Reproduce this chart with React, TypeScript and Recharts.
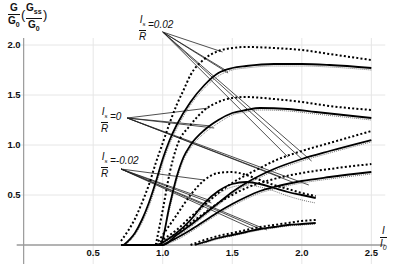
import React from 'react';
import { ComposedChart, Line, XAxis, YAxis, ReferenceLine, ReferenceDot } from 'recharts';

// axis ticks
const X_TICKS = [0.5, 1, 1.5, 2, 2.5];
const Y_TICKS = [0.5, 1, 1.5, 2];
const X_TICK_LABELS = ['0.5', '1.0', '1.5', '2.0', '2.5'];
const Y_TICK_LABELS = ['0.5', '1.0', '1.5', '2.0'];

// Is/R = 0.02, upper branch
const P1_DOT = [[0.7, 0.04], [0.75, 0.14], [0.8, 0.26], [0.85, 0.42], [0.9, 0.6], [0.95, 0.82], [1.0, 1.02], [1.05, 1.22], [1.1, 1.4], [1.15, 1.55], [1.2, 1.7], [1.3, 1.86], [1.4, 1.94], [1.5, 1.97], [1.6, 1.98], [1.8, 1.97], [2.0, 1.95], [2.2, 1.91], [2.5, 1.85]];
const P1_SOLID = [[0.72, 0], [0.8, 0.12], [0.85, 0.25], [0.9, 0.42], [0.95, 0.63], [1.0, 0.86], [1.05, 1.05], [1.1, 1.2], [1.2, 1.43], [1.3, 1.6], [1.4, 1.72], [1.5, 1.77], [1.6, 1.79], [1.8, 1.81], [2.0, 1.81], [2.2, 1.8], [2.5, 1.77]];
const P1_FINE = [[0.73, 0], [0.8, 0.1], [0.85, 0.22], [0.9, 0.38], [0.95, 0.59], [1.0, 0.82], [1.05, 1.01], [1.1, 1.16], [1.2, 1.4], [1.3, 1.57], [1.4, 1.69], [1.5, 1.75], [1.6, 1.77], [1.8, 1.79], [2.0, 1.79], [2.2, 1.78], [2.5, 1.75]];

// Is/R = 0, upper branch
const P2_DOT = [[0.95, 0], [1.0, 0.35], [1.05, 0.72], [1.1, 0.98], [1.2, 1.2], [1.3, 1.35], [1.4, 1.43], [1.5, 1.47], [1.6, 1.48], [1.8, 1.46], [2.0, 1.43], [2.2, 1.39], [2.5, 1.35]];
const P2_SOLID = [[0.7, 0], [0.98, 0], [1.05, 0.4], [1.1, 0.68], [1.15, 0.88], [1.2, 1.0], [1.3, 1.15], [1.4, 1.25], [1.5, 1.32], [1.6, 1.35], [1.7, 1.37], [1.9, 1.36], [2.1, 1.33], [2.3, 1.3], [2.5, 1.27]];
const P2_FINE = [[0.99, 0], [1.05, 0.36], [1.1, 0.64], [1.15, 0.85], [1.2, 0.97], [1.3, 1.12], [1.4, 1.22], [1.5, 1.3], [1.6, 1.33], [1.7, 1.35], [1.9, 1.34], [2.1, 1.31], [2.3, 1.28], [2.5, 1.25]];

// Is/R = 0.02, lower branch
const P3_DOT = [[0.96, 0], [1.0, 0.05], [1.1, 0.15], [1.2, 0.28], [1.3, 0.4], [1.4, 0.52], [1.5, 0.62], [1.6, 0.7], [1.7, 0.77], [1.8, 0.84], [2.0, 0.94], [2.2, 1.02], [2.5, 1.14]];
const P3_SOLID = [[0.7, 0], [1.0, 0], [1.1, 0.1], [1.2, 0.2], [1.3, 0.31], [1.4, 0.42], [1.5, 0.53], [1.6, 0.62], [1.8, 0.76], [2.0, 0.86], [2.2, 0.94], [2.5, 1.05]];
const P3_FINE = [[1.01, 0], [1.1, 0.08], [1.2, 0.18], [1.3, 0.29], [1.4, 0.4], [1.5, 0.51], [1.6, 0.6], [1.8, 0.74], [2.0, 0.84], [2.2, 0.92], [2.5, 1.03]];

// Is/R = 0, lower branch
const P4_DOT = [[0.97, 0], [1.1, 0.12], [1.2, 0.22], [1.3, 0.32], [1.4, 0.42], [1.5, 0.5], [1.6, 0.57], [1.7, 0.62], [1.8, 0.66], [2.0, 0.72], [2.2, 0.76], [2.5, 0.81]];
const P4_SOLID = [[1.0, 0], [1.1, 0.07], [1.2, 0.15], [1.3, 0.24], [1.4, 0.33], [1.5, 0.41], [1.6, 0.48], [1.7, 0.54], [1.8, 0.58], [2.0, 0.64], [2.2, 0.68], [2.5, 0.73]];
const P4_FINE = [[1.01, 0], [1.1, 0.05], [1.2, 0.13], [1.3, 0.22], [1.4, 0.31], [1.5, 0.39], [1.6, 0.46], [1.7, 0.52], [1.8, 0.56], [2.0, 0.62], [2.2, 0.66], [2.5, 0.71]];

// Is/R = -0.02, upper branch
const P5_DOT = [[0.95, 0], [1.0, 0.1], [1.1, 0.3], [1.2, 0.5], [1.3, 0.65], [1.4, 0.72], [1.5, 0.73], [1.6, 0.7], [1.7, 0.65], [1.8, 0.6], [1.9, 0.56], [2.0, 0.52], [2.1, 0.49]];
const P5_SOLID = [[0.97, 0], [1.1, 0.12], [1.2, 0.25], [1.3, 0.42], [1.4, 0.54], [1.5, 0.61], [1.6, 0.63], [1.7, 0.61], [1.8, 0.57], [1.9, 0.53], [2.0, 0.5], [2.1, 0.47]];
const P5_FINE = [[0.98, 0], [1.1, 0.1], [1.2, 0.22], [1.3, 0.39], [1.4, 0.51], [1.5, 0.58], [1.6, 0.6], [1.7, 0.58], [1.8, 0.54], [1.9, 0.49], [2.0, 0.45], [2.1, 0.42]];

// Is/R = -0.02, lower branch
const P6_DOT = [[1.2, 0], [1.3, 0.05], [1.4, 0.09], [1.5, 0.12], [1.6, 0.15], [1.7, 0.18], [1.8, 0.2], [1.9, 0.22], [2.0, 0.24], [2.1, 0.25]];
const P6_SOLID = [[1.23, 0], [1.3, 0.03], [1.4, 0.07], [1.5, 0.1], [1.6, 0.13], [1.7, 0.16], [1.8, 0.18], [1.9, 0.2], [2.0, 0.21], [2.1, 0.22]];
const P6_FINE = [[1.24, 0], [1.3, 0.02], [1.4, 0.06], [1.5, 0.09], [1.6, 0.12], [1.7, 0.15], [1.8, 0.17], [1.9, 0.19], [2.0, 0.2], [2.1, 0.21]];

// leader lines: label anchor -> points on curves
const ANCHOR_P02 = [1.0, 2.13];
const ANCHOR_0 = [0.745, 1.27];
const ANCHOR_M02 = [0.7, 0.76];
const TARGETS_P02 = [[1.43, 1.93], [1.45, 1.75], [1.47, 1.72], [1.9, 0.88], [2.0, 0.86], [2.07, 0.84]];
const TARGETS_0 = [[1.33, 1.37], [1.35, 1.19], [1.37, 1.17], [1.85, 0.68], [1.95, 0.62], [2.05, 0.6]];
const TARGETS_M02 = [[1.3, 0.65], [1.33, 0.45], [1.35, 0.42], [1.65, 0.16], [1.7, 0.16], [1.75, 0.15]];

const GROUPS = [
    { dot: P1_DOT, solid: P1_SOLID, fine: P1_FINE },
    { dot: P2_DOT, solid: P2_SOLID, fine: P2_FINE },
    { dot: P3_DOT, solid: P3_SOLID, fine: P3_FINE },
    { dot: P4_DOT, solid: P4_SOLID, fine: P4_FINE },
    { dot: P5_DOT, solid: P5_SOLID, fine: P5_FINE },
    { dot: P6_DOT, solid: P6_SOLID, fine: P6_FINE },
];

const LEADERS = [
    { from: ANCHOR_P02, to: TARGETS_P02 },
    { from: ANCHOR_0, to: TARGETS_0 },
    { from: ANCHOR_M02, to: TARGETS_M02 },
];

const toPts = (arr: number[][]) => arr.map(([x, y]) => ({ x, y }));

const FONT = '"Liberation Sans", Arial, sans-serif';
const GRID = '#e6e6e6';
const AXIS = '#9a9a9a';

function Frac({ num, den, left, top, italic }: { num: React.ReactNode; den: React.ReactNode; left: number; top: number; italic?: boolean }) {
    return (
        <div style={{ position: 'absolute', left, top, display: 'inline-flex', flexDirection: 'column', alignItems: 'center', fontFamily: FONT, fontSize: 10, lineHeight: '10px', fontStyle: italic ? 'italic' : 'normal', fontWeight: italic ? 400 : 600, color: '#111' }}>
            <span>{num}</span>
            <span style={{ alignSelf: 'stretch', borderTop: '1px solid #111', margin: '1px 0' }} />
            <span>{den}</span>
        </div>
    );
}

export default function App() {
    const tickText = { fontFamily: FONT, fontSize: 9.5, fontWeight: 600, fill: '#111' };
    return (
        <div style={{ position: 'relative', width: 395, height: 264, background: '#fff' }}>
            <style>{`body{margin:0}`}</style>
            <ComposedChart width={395} height={264} margin={{ top: 0, right: 0, bottom: 0, left: 0 }} accessibilityLayer={false}>
                <XAxis type="number" dataKey="x" domain={[-0.17, 2.67]} hide allowDataOverflow />
                <YAxis type="number" dataKey="y" domain={[-0.19, 2.45]} hide allowDataOverflow />

                {X_TICKS.map((t) => (
                    <ReferenceLine key={`gx${t}`} segment={[{ x: t, y: -0.19 }, { x: t, y: 2.07 }]} stroke={GRID} strokeWidth={1} ifOverflow="visible" />
                ))}
                {Y_TICKS.map((t) => (
                    <ReferenceLine key={`gy${t}`} segment={[{ x: -0.05, y: t }, { x: 2.6, y: t }]} stroke={GRID} strokeWidth={1} ifOverflow="visible" />
                ))}
                <ReferenceLine segment={[{ x: -0.05, y: 0 }, { x: 2.6, y: 0 }]} stroke={AXIS} strokeWidth={1.5} ifOverflow="visible" />
                <ReferenceLine segment={[{ x: 0, y: -0.19 }, { x: 0, y: 2.07 }]} stroke={AXIS} strokeWidth={1.2} ifOverflow="visible" />

                {X_TICKS.map((t, i) => (
                    <ReferenceDot key={`lx${t}`} x={t} y={0} r={0} ifOverflow="visible"
                        label={{ value: X_TICK_LABELS[i], position: 'bottom', offset: 4, style: tickText }} />
                ))}
                {Y_TICKS.map((t, i) => (
                    <ReferenceDot key={`ly${t}`} x={0} y={t} r={0} ifOverflow="visible"
                        label={{ value: Y_TICK_LABELS[i], position: 'left', offset: 3, style: tickText }} />
                ))}

                {LEADERS.map((g, gi) => g.to.map((p, pi) => (
                    <ReferenceLine key={`ld${gi}-${pi}`} segment={[{ x: g.from[0], y: g.from[1] }, { x: p[0], y: p[1] }]} stroke="#222" strokeWidth={0.8} ifOverflow="visible" />
                )))}

                {GROUPS.map((g, i) => (
                    <Line key={`f${i}`} data={toPts(g.fine)} dataKey="y" type="monotone" stroke="#777" strokeWidth={1} strokeDasharray="1 1" dot={false} activeDot={false} isAnimationActive={false} />
                ))}
                {GROUPS.map((g, i) => (
                    <Line key={`s${i}`} data={toPts(g.solid)} dataKey="y" type="monotone" stroke="#000" strokeWidth={1.8} dot={false} activeDot={false} isAnimationActive={false} />
                ))}
                {GROUPS.map((g, i) => (
                    <Line key={`d${i}`} data={toPts(g.dot)} dataKey="y" type="monotone" stroke="#000" strokeWidth={2} strokeDasharray="2 2.2" dot={false} activeDot={false} isAnimationActive={false} />
                ))}
            </ComposedChart>

            <Frac left={8} top={3} num="G" den={<span>G<sub style={{ fontSize: 7 }}>0</sub></span>} />
            <span style={{ position: 'absolute', left: 21, top: 7, fontFamily: FONT, fontSize: 13, color: '#111' }}>(</span>
            <Frac left={26} top={3} num={<span>G<sub style={{ fontSize: 7 }}>ss</sub></span>} den={<span>G<sub style={{ fontSize: 7 }}>0</sub></span>} />
            <span style={{ position: 'absolute', left: 43, top: 7, fontFamily: FONT, fontSize: 13, color: '#111' }}>)</span>

            <Frac left={380} top={226} italic num="I" den={<span>I<sub style={{ fontSize: 7 }}>0</sub></span>} />

            <Frac left={139} top={15} italic num={<span>I<sub style={{ fontSize: 6 }}>s</sub></span>} den="R" />
            <span style={{ position: 'absolute', left: 148, top: 19, fontFamily: FONT, fontSize: 10, fontStyle: 'italic', color: '#111' }}>=0.02</span>
            <Frac left={101} top={107} italic num={<span>I<sub style={{ fontSize: 6 }}>s</sub></span>} den="R" />
            <span style={{ position: 'absolute', left: 110, top: 111, fontFamily: FONT, fontSize: 10, fontStyle: 'italic', color: '#111' }}>=0</span>
            <Frac left={101} top={152} italic num={<span>I<sub style={{ fontSize: 6 }}>s</sub></span>} den="R" />
            <span style={{ position: 'absolute', left: 110, top: 155, fontFamily: FONT, fontSize: 10, fontStyle: 'italic', color: '#111' }}>=-0.02</span>
        </div>
    );
}
